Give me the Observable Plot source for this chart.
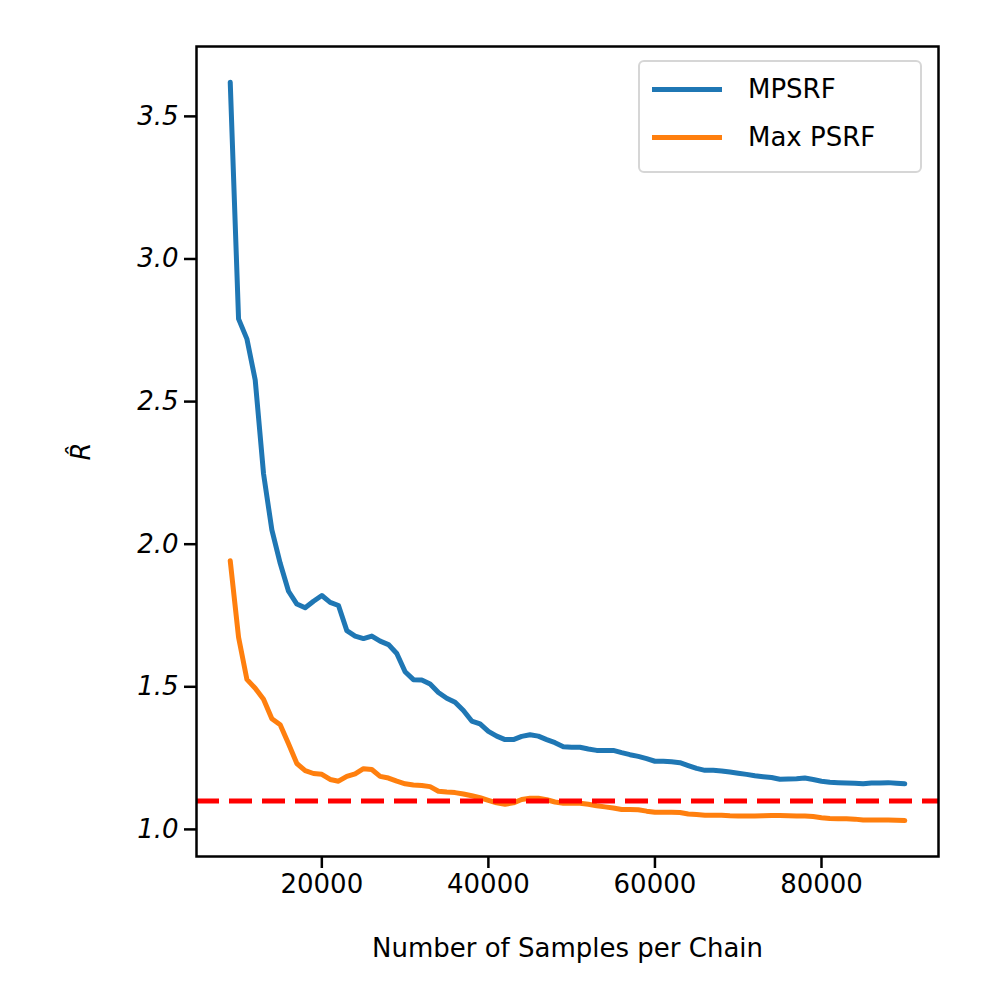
<!DOCTYPE html>
<html>
<head>
<meta charset="utf-8">
<script src="https://cdn.jsdelivr.net/npm/d3@7"></script>
<script src="https://cdn.jsdelivr.net/npm/@observablehq/plot@0.6"></script>
<style>
body { margin: 0; background: white; }
#wrap { position: relative; width: 999px; height: 999px; font-family: "DejaVu Sans", sans-serif; }
#legend { position: absolute; left: 638px; top: 60px; width: 284px; height: 113px; box-sizing: border-box;
  border: 2px solid #d6d6d6; border-radius: 6px; background: rgba(255,255,255,0.85); font-size: 26px; }
.item { position: absolute; left: 12px; display: flex; align-items: center; }
.sw { width: 70px; height: 0; border-top: 5px solid; margin-right: 26px; }
</style>
</head>
<body>
<div id="wrap">
<div id="chart"></div>
<div id="legend">
  <div class="item" style="top:12px"><div class="sw" style="border-color:#1f77b4"></div>MPSRF</div>
  <div class="item" style="top:60px"><div class="sw" style="border-color:#ff7f0e"></div>Max PSRF</div>
</div>
</div>
<script>
const samples = d3.range(9000, 90001, 1000);
const mpsrf = [3.62, 2.79, 2.72, 2.576, 2.247, 2.05, 1.933, 1.835, 1.79, 1.777, 1.80, 1.82, 1.796, 1.785, 1.697, 1.678, 1.669, 1.678, 1.66, 1.648, 1.617, 1.553, 1.525, 1.524, 1.51, 1.48, 1.46,
  1.446, 1.417, 1.38, 1.37, 1.344, 1.327, 1.315, 1.315, 1.326, 1.332, 1.327, 1.315, 1.304, 1.29, 1.288, 1.288, 1.282, 1.277, 1.277, 1.277, 1.269, 1.262, 1.256, 1.248, 1.239, 1.239, 1.237, 1.234, 1.224, 1.214, 1.207, 1.207, 1.205, 1.201, 1.197, 1.193, 1.188, 1.185, 1.182, 1.176, 1.177, 1.178, 1.18, 1.175, 1.169, 1.165, 1.164, 1.163, 1.162, 1.16, 1.163, 1.163, 1.164, 1.162, 1.16];
const maxPsrf = [1.942, 1.674, 1.526, 1.495, 1.456, 1.388, 1.367, 1.30, 1.231, 1.206, 1.196, 1.193, 1.175, 1.169, 1.186, 1.195, 1.213, 1.21, 1.186, 1.18, 1.169, 1.16, 1.156, 1.154, 1.15, 1.134, 1.131,
  1.129, 1.124, 1.118, 1.111, 1.102, 1.093, 1.088, 1.093, 1.105, 1.109, 1.109, 1.104, 1.096, 1.092, 1.092, 1.092, 1.088, 1.083, 1.079, 1.075, 1.07, 1.07, 1.069, 1.064, 1.06, 1.06, 1.06, 1.059, 1.054, 1.052, 1.05, 1.05, 1.05, 1.048, 1.047, 1.047, 1.047, 1.048, 1.049, 1.049, 1.048, 1.047, 1.047, 1.045, 1.041, 1.038, 1.037, 1.037, 1.036, 1.033, 1.033, 1.033, 1.033, 1.032, 1.031];
const threshold = 1.1;
const xTicks = [20000, 40000, 60000, 80000];
const yTicks = [1.0, 1.5, 2.0, 2.5, 3.0, 3.5];

const blue = samples.map((s, i) => ({x: s, y: mpsrf[i]}));
const orange = samples.map((s, i) => ({x: s, y: maxPsrf[i]}));

const chart = Plot.plot({
  width: 999,
  height: 999,
  marginLeft: 196,
  marginRight: 61,
  marginTop: 46,
  marginBottom: 143,
  style: {fontFamily: "DejaVu Sans, sans-serif", fontSize: "26px", color: "black", background: "white"},
  x: {domain: [4950, 94050]},
  y: {domain: [0.905, 3.745]},
  marks: [
    Plot.axisX({ticks: xTicks, tickFormat: d => String(d), tickSize: 12, tickPadding: 6, strokeWidth: 2.5,
      label: "Number of Samples per Chain", labelAnchor: "center", labelArrow: "none", labelOffset: 100}),
    Plot.axisY({ticks: yTicks, tickFormat: d => d.toFixed(1), tickSize: 12, tickPadding: 6, strokeWidth: 2.5,
      label: "R̂", labelAnchor: "center", labelArrow: "none", labelOffset: 125, fontStyle: "italic"}),
    Plot.line(blue, {x: "x", y: "y", stroke: "#1f77b4", strokeWidth: 5}),
    Plot.line(orange, {x: "x", y: "y", stroke: "#ff7f0e", strokeWidth: 5}),
    Plot.ruleY([threshold], {stroke: "red", strokeWidth: 5, strokeDasharray: "23,10"}),
    Plot.frame({stroke: "black", strokeWidth: 2.5})
  ]
});
document.getElementById("chart").append(chart);
</script>
</body>
</html>
